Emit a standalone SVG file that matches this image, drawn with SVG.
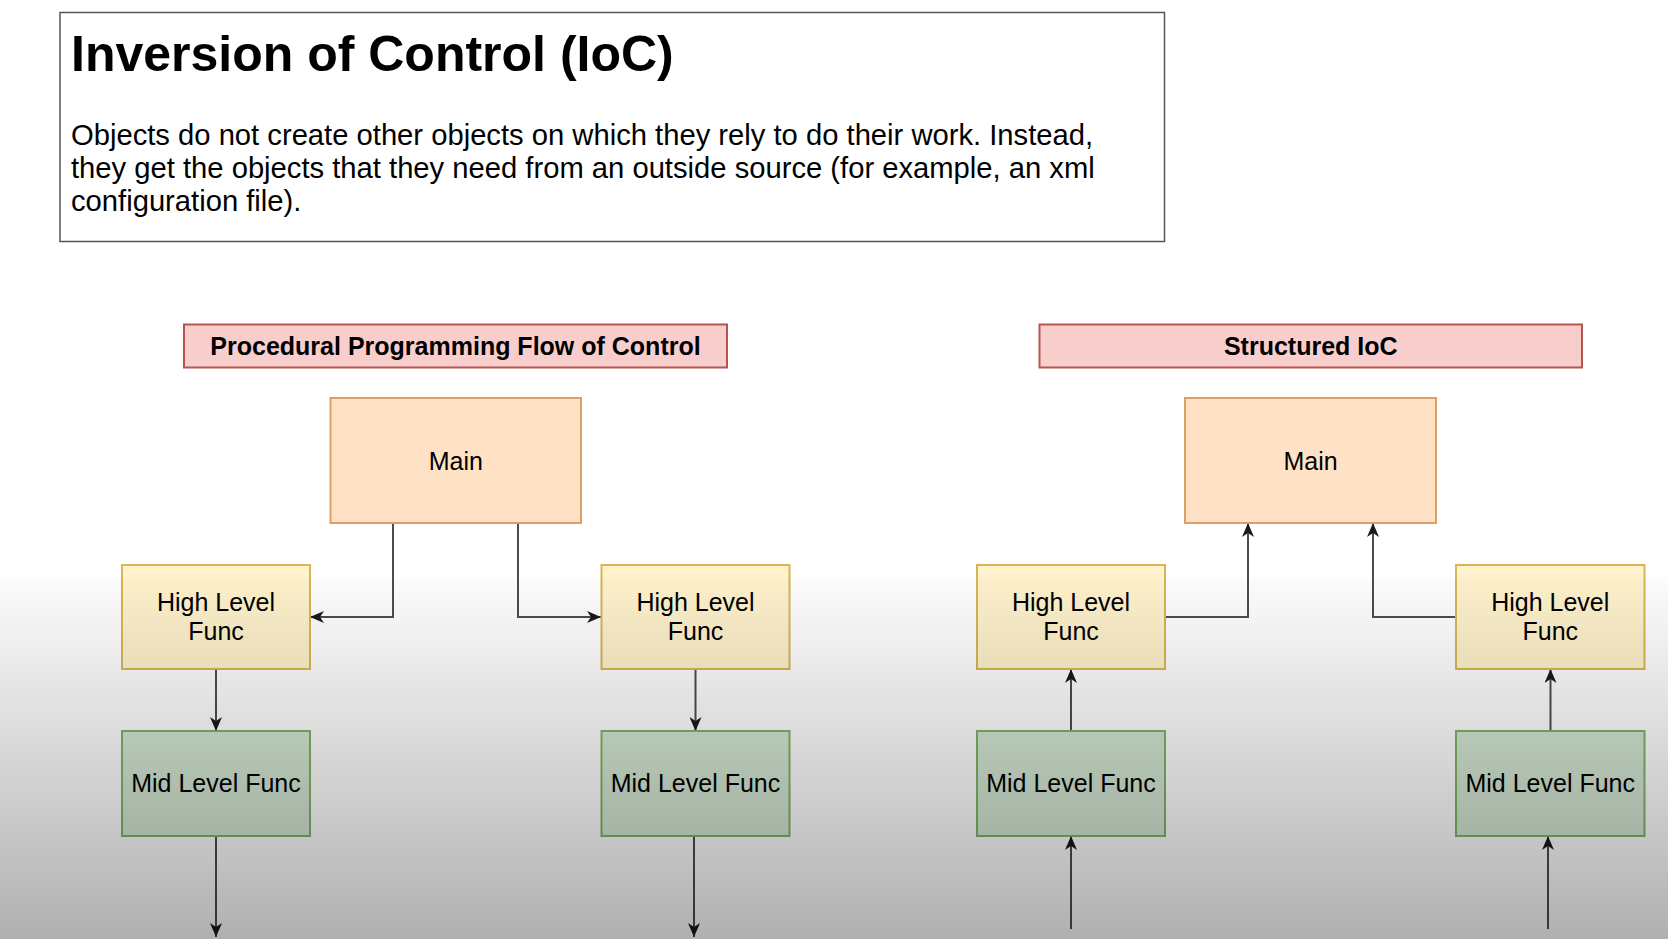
<svg xmlns="http://www.w3.org/2000/svg" width="1668" height="939" viewBox="0 0 1668 939">
  <style>
    text { font-family: "Liberation Sans", Arial, Helvetica, sans-serif; fill: #000; }
    .title { font-size: 50px; font-weight: bold; }
    .para { font-size: 29.2px; }
    .node { font-size: 25px; text-anchor: middle; }
    .head { font-size: 25px; font-weight: bold; text-anchor: middle; }
    .main { fill: #ffe2c6; stroke: #dca064; stroke-width: 2; }
    .high { fill: #fff2cc; stroke: #d6b656; stroke-width: 2; }
    .mid { fill: #d5e8d4; stroke: #82b366; stroke-width: 2; }
    .pink { fill: #f8cecc; stroke: #b85450; stroke-width: 2; }
    .edge { fill: none; stroke: #4d4d4d; stroke-width: 2; marker-end: url(#arrow); }
  </style>
  <defs>
    <marker id="arrow" markerUnits="userSpaceOnUse" markerWidth="14" markerHeight="12" refX="14" refY="6" orient="auto">
      <path d="M0,0 L14,6 L0,12 L4,6 Z" fill="#1a1a1a"/>
    </marker>
    <linearGradient id="shade" gradientUnits="userSpaceOnUse" x1="0" y1="575" x2="0" y2="939">
      <stop offset="0" stop-color="#000" stop-opacity="0"/>
      <stop offset="0.015" stop-color="#000" stop-opacity="0.015"/>
      <stop offset="1" stop-color="#000" stop-opacity="0.31"/>
    </linearGradient>
  </defs>
  <rect x="0" y="0" width="1668" height="939" fill="#ffffff"/>

  <g id="header">
    <rect x="60" y="12.5" width="1104.5" height="229" fill="#ffffff" stroke="#555555" stroke-width="1.5"/>
    <text class="title" x="71" y="71">Inversion of Control (IoC)</text>
    <text class="para" x="71" y="145">Objects do not create other objects on which they rely to do their work. Instead,</text>
    <text class="para" x="71" y="178">they get the objects that they need from an outside source (for example, an xml</text>
    <text class="para" x="71" y="211">configuration file).</text>
  </g>

  <g id="connectors">
    <path class="edge" d="M393,523 V617 H310"/>
    <path class="edge" d="M518,523 V617 H601"/>
    <path class="edge" d="M216,669 V731"/>
    <path class="edge" d="M695.5,669 V731"/>
    <path class="edge" d="M216,836 V937"/>
    <path class="edge" d="M694,836 V937"/>
    <path class="edge" d="M1165,617 H1248 V523"/>
    <path class="edge" d="M1456,617 H1373 V523"/>
    <path class="edge" d="M1071,731 V669"/>
    <path class="edge" d="M1550.5,731 V669"/>
    <path class="edge" d="M1071,929 V836"/>
    <path class="edge" d="M1548,929 V836"/>
  </g>

  <g id="left-title">
    <rect class="pink" x="184" y="324.5" width="543" height="43"/>
    <text class="head" x="455.5" y="355">Procedural Programming Flow of Control</text>
  </g>
  <g id="left-main">
    <rect class="main" x="330.5" y="398" width="250.5" height="125"/>
    <text class="node" x="455.75" y="470">Main</text>
  </g>
  <g id="left-high-1">
    <rect class="high" x="122" y="565" width="188" height="104"/>
    <text class="node" x="216" y="611">High Level</text>
    <text class="node" x="216" y="640">Func</text>
  </g>
  <g id="left-high-2">
    <rect class="high" x="601.5" y="565" width="188" height="104"/>
    <text class="node" x="695.5" y="611">High Level</text>
    <text class="node" x="695.5" y="640">Func</text>
  </g>
  <g id="left-mid-1">
    <rect class="mid" x="122" y="731" width="188" height="105"/>
    <text class="node" x="216" y="792">Mid Level Func</text>
  </g>
  <g id="left-mid-2">
    <rect class="mid" x="601.5" y="731" width="188" height="105"/>
    <text class="node" x="695.5" y="792">Mid Level Func</text>
  </g>

  <g id="right-title">
    <rect class="pink" x="1039.5" y="324.5" width="542.5" height="43"/>
    <text class="head" x="1310.75" y="355">Structured IoC</text>
  </g>
  <g id="right-main">
    <rect class="main" x="1185" y="398" width="251" height="125"/>
    <text class="node" x="1310.5" y="470">Main</text>
  </g>
  <g id="right-high-1">
    <rect class="high" x="977" y="565" width="188" height="104"/>
    <text class="node" x="1071" y="611">High Level</text>
    <text class="node" x="1071" y="640">Func</text>
  </g>
  <g id="right-high-2">
    <rect class="high" x="1456" y="565" width="188.5" height="104"/>
    <text class="node" x="1550.25" y="611">High Level</text>
    <text class="node" x="1550.25" y="640">Func</text>
  </g>
  <g id="right-mid-1">
    <rect class="mid" x="977" y="731" width="188" height="105"/>
    <text class="node" x="1071" y="792">Mid Level Func</text>
  </g>
  <g id="right-mid-2">
    <rect class="mid" x="1456" y="731" width="188.5" height="105"/>
    <text class="node" x="1550.25" y="792">Mid Level Func</text>
  </g>

  <rect x="0" y="575" width="1668" height="364" fill="url(#shade)" pointer-events="none"/>
</svg>
